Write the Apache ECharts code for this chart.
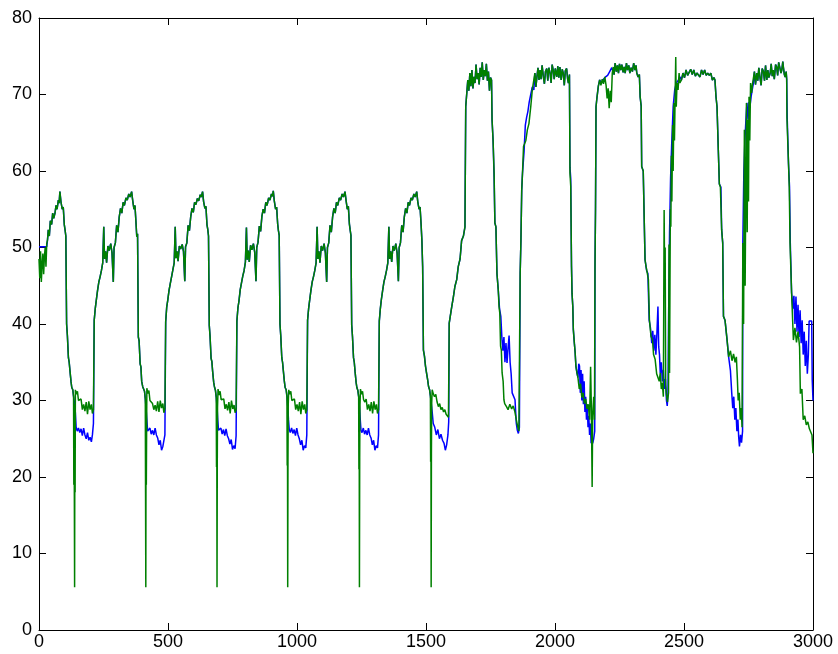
<!DOCTYPE html>
<html>
<head>
<meta charset="utf-8">
<title>Two traces</title>
<script src="https://cdn.jsdelivr.net/npm/echarts@6/dist/echarts.min.js"></script>
<style>
  html, body { margin: 0; padding: 0; background: #ffffff; }
  #chart { width: 838px; height: 654px; }
</style>
</head>
<body>
<div id="chart"></div>
<script>
// Axis ranges and tick spacing
const xRange = [0, 3000];
const xStep = 500;
const yRange = [0, 80];
const yStep = 10;

// Blue trace: [sample, value]
const blueTrace = [
  [0,50.1],[30,50.1],[33,51],[36,52.3],[40,51.5],[44,53.5],[49,53],[53,54.5],[57,53.8],[62,54.5],[66,55.5],[70,55],[75,56.2],[78,55.8],[81,57.3],
  [85,56],[90,55],[94,55.3],[98,53],[101,52.3],[104,51.5],[107,40],[110,38.5],[114,35.6],[117,35],[120,33.9],[124,32.5],[127,31.7],[131,31.4],[134,30.5],
  [138,29.5],[141,28.4],[144,26.5],[148,26],[153,26.4],[158,25.8],[163,26.3],[168,25.4],[173,26.4],[178,25.5],[183,25],[188,25.8],[193,24.8],[198,25.2],[203,24.6],[207,25.5],[211,27],
  [214,40.5],[218,42],[222,43.1],[227,44.4],[232,45.5],[237,46.2],[242,47],[247,48],[251,52.7],[254,48.5],[258,49.5],[262,48],[267,50.2],[272,49.6],[278,50.5],[283,49.3],[288,45.5],[291,50],[296,50.6],[301,52.9],[306,52],[311,54],[316,55.1],[321,54.5],[326,55.9],[331,55.5],[337,56.5],[342,56.2],[348,57],[353,56.6],[359,57.3],
  [363,56.2],[368,55],[372,55.5],[376,53.2],[379,51.4],[382,51.8],[385,38.3],[388,37.8],[392,34.8],[395,34.4],[398,32.5],[402,31.8],[405,31.6],[409,31.2],[412,30.2],
  [415,29],[418,27.5],[421,26],[425,25.8],[430,26.4],[435,25.6],[440,26.1],[445,25.5],[450,26.4],[455,25.5],[460,25.1],[465,24.2],[470,24.8],[475,23.5],[480,24],[484,23.8],[488,25.5],
  [491,40.3],[495,42.2],[499,43.1],[504,44.4],[509,45.3],[514,46.2],[519,47.1],[524,48],[528,52.7],[531,48.6],[535,49.5],[539,48.2],[544,50.2],[549,49.8],[555,50.4],[560,49.5],[565,45.6],[568,50.1],[573,50.6],[578,52.9],[583,52.2],[588,54],[593,55.1],[598,54.6],[603,55.9],[608,55.6],[614,56.4],[619,56.1],[625,56.9],[629,56.6],[634,57.3],
  [638,56],[643,55.1],[647,55.4],[651,53],[654,52.4],[657,51.5],[660,39.8],[663,38.4],[667,35.5],[670,35.1],[673,33.8],[677,32.4],[680,31.8],[684,31.3],[687,30.4],
  [690,29.2],[693,27.4],[696,26.1],[700,25.9],[705,26.4],[710,25.6],[715,26.2],[720,25.4],[725,26.3],[730,25.4],[735,25],[740,24.3],[745,24.9],[750,23.6],[755,24.1],[760,23.7],[764,25.4],
  [767,40.4],[771,42.1],[775,43],[780,44.5],[785,45.4],[790,46.3],[795,47],[800,48.1],[804,52.6],[807,48.4],[811,49.6],[815,48.1],[820,50.3],[825,49.7],[831,50.5],[836,49.4],[841,45.6],[844,50],[849,50.7],[854,52.8],[859,52.1],[864,54.1],[869,55],[874,54.5],[879,55.9],[884,55.5],[890,56.5],[895,56.2],[901,57],[905,56.7],[908,57.4],
  [912,56.1],[917,55],[921,55.3],[925,53.1],[928,52.2],[931,51.6],[934,40],[937,38.5],[941,35.6],[944,35],[947,33.9],[951,32.5],[954,31.7],[958,31.4],[961,30.5],
  [964,29.3],[967,27.5],[970,26.2],[974,25.8],[979,26.4],[984,25.7],[989,26.2],[994,25.4],[999,26.4],[1004,25.5],[1009,25],[1014,24.2],[1019,24.8],[1024,23.5],[1029,24.1],[1034,23.8],[1038,25.5],
  [1041,40.5],[1045,42],[1049,43.1],[1054,44.4],[1059,45.5],[1064,46.2],[1069,47],[1074,48],[1078,52.7],[1081,48.5],[1085,49.5],[1089,48],[1094,50.2],[1099,49.6],[1105,50.5],[1110,49.3],[1115,45.5],[1118,50],[1123,50.6],[1128,52.9],[1133,52],[1138,54],[1143,55.1],[1148,54.5],[1153,55.9],[1158,55.5],[1164,56.5],[1169,56.2],[1175,57],[1180,56.6],[1186,57.3],
  [1190,56.2],[1195,55],[1199,55.4],[1203,53.1],[1206,52.3],[1209,51.6],[1212,39.9],[1215,38.4],[1219,35.6],[1222,35],[1225,33.8],[1229,32.4],[1232,31.7],[1236,31.3],[1239,30.5],
  [1242,29.2],[1245,27.6],[1248,26.1],[1252,25.8],[1257,26.4],[1262,25.6],[1267,26.1],[1272,25.5],[1277,26.4],[1282,25.5],[1287,25.1],[1292,24.2],[1297,24.8],[1302,23.5],[1307,24.1],[1312,23.8],[1316,25.5],
  [1319,40.4],[1323,42],[1327,43.2],[1332,44.4],[1337,45.5],[1342,46.2],[1347,47],[1352,48],[1356,52.7],[1359,48.5],[1363,49.5],[1367,48.1],[1372,50.2],[1377,49.6],[1383,50.5],[1388,49.3],[1393,45.6],[1396,50],[1401,50.6],[1406,52.9],[1411,52],[1416,54],[1421,55.1],[1426,54.5],[1431,55.9],[1436,55.5],[1442,56.5],[1447,56.2],[1453,57],[1458,56.6],[1464,57.3],
  [1468,56],[1473,55],[1477,55.3],[1481,53],[1484,51],[1487,47.5],[1490,36.6],[1494,35.8],[1498,34.5],[1502,33.6],[1506,32.8],[1510,31.8],[1514,31.4],[1517,30.6],
  [1520,29.8],[1524,28.5],[1528,27],[1534,26.5],[1540,25.5],[1546,26.2],[1552,25],[1558,25.6],[1564,24.8],[1570,24.4],[1575,23.5],[1580,24.2],[1585,25.5],[1588,27.2],
  [1590,40.1],[1594,41],[1600,42.3],[1606,43.5],[1612,44.9],[1619,45.8],[1625,47.5],[1632,48.5],[1638,50.9],[1645,51.5],[1651,52.7],[1654,68.4],
  [1658,68.6],[1662,71.9],[1666,70.5],[1670,72.8],[1674,71.1],[1678,73.2],[1682,70.8],[1686,72.3],[1690,71.5],[1694,73.9],[1698,72],[1702,72.8],[1706,71.3],[1710,73.5],[1714,72.3],[1718,74.2],[1722,71.9],[1726,73.2],[1730,72.4],[1734,74],[1738,71.8],[1742,73],[1746,70.5],[1750,72.2],[1754,71.9],
  [1756,66.7],[1760,64],[1764,59.1],[1767,53.2],[1771,52.7],[1775,46.6],[1780,44.5],[1785,42],[1790,41],[1794,38.3],[1798,36.5],[1802,38.3],[1806,35],[1810,37.5],[1814,34.9],[1818,36.8],[1822,38.5],[1826,35],[1830,33.5],[1834,31],[1840,30.8],[1845,30.1],[1850,27],[1854,26.1],[1858,25.7],[1862,26.5],
  [1865,46.6],[1868,51],[1871,57.5],[1874,59.7],[1880,62.5],[1885,66],[1890,67],[1895,67.8],[1900,69],[1906,70],[1912,71],
  [1918,70.6],[1922,72.8],[1926,71],[1930,72.3],[1934,73.5],[1938,71.9],[1942,73.2],[1946,72],[1950,73.8],[1955,72.3],[1959,71.4],[1963,73],[1968,73.4],[1972,71.8],[1976,73.5],[1981,72.8],[1985,71.5],[1989,73.9],[1993,73.2],[1997,72],[2001,73.4],[2007,72.3],[2011,73.7],[2015,72.2],[2019,73.6],[2024,71.9],[2028,73.3],[2032,72.8],[2036,71.2],[2040,73.1],[2045,73.4],[2049,72],[2052,71.5],[2056,72.6],
  [2058,60.5],[2061,59],[2064,47.5],[2066,44],[2069,42.3],[2071,39.3],[2075,37.5],[2078,36.3],[2081,34.5],[2085,33.6],[2089,33],[2092,34.8],[2095,34.5],[2098,31],[2101,34],[2104,30],[2107,33.5],[2110,29.5],[2113,32.5],[2116,28.5],[2119,30.5],[2122,27.5],[2125,29.5],[2128,26.5],[2131,28],[2134,25.5],[2137,27],[2140,24.4],[2143,25.5],[2146,24.4],[2150,25],[2154,26],
  [2155,47.5],[2157,54.9],[2159,68.4],[2163,69.7],[2168,71.1],[2173,71.9],[2180,71.5],[2188,72],[2196,72.3],[2204,72.5],[2212,73],[2220,73.5],
  [2226,73.6],[2229,72.6],[2233,74.1],[2238,73],[2242,73.8],[2246,72.8],[2250,74],[2255,73.2],[2259,73.9],[2264,72.9],[2268,73.6],[2272,72.8],[2277,74.1],[2281,73.2],[2286,73.8],[2290,72.8],[2295,73.5],[2300,73],[2305,74.1],[2310,73.2],[2314,73.8],[2317,72.8],[2322,72.3],[2327,72.6],
  [2330,69.7],[2334,68.5],[2336,60.6],[2342,60],[2349,48.4],[2355,47],[2360,46.6],[2365,40.5],[2370,39.5],[2375,37.5],[2379,39.1],[2383,36.5],[2387,38.6],[2391,36],[2395,38.8],[2399,42.3],[2402,37],[2405,36],[2408,33.6],[2412,35],[2416,32.5],[2420,34],[2424,31.5],[2428,32.8],[2432,30],[2435,29.3],[2438,31],
  [2440,40],[2444,52],[2448,59.1],[2452,63.2],[2458,68.4],[2464,70.6],[2470,71.5],[2477,71.8],[2484,72.3],
  [2490,71.9],[2496,72.8],[2502,72.2],[2508,73.2],[2514,72.5],[2520,72.3],[2526,73.3],[2532,72.6],[2538,73.2],[2544,72.4],[2550,72.8],[2556,73],[2562,72.3],[2568,73.2],[2574,72.6],[2580,73.2],[2586,72.5],[2592,72.8],[2598,72.5],[2604,72.8],[2610,71.9],[2616,72.2],
  [2620,71.9],[2624,69.7],[2628,68.4],[2633,62.7],[2637,58.3],[2643,57.9],[2646,52.3],[2650,50.6],[2653,41],[2659,40.5],[2667,37.9],[2673,35.7],[2680,33.9],[2685,31],[2689,29],[2693,30.5],[2697,27.5],[2701,29],[2705,26],[2709,27.5],[2712,25.2],[2715,24],[2719,25.5],[2723,24.5],[2727,26],
  [2728,50.6],[2732,60],[2736,64],[2740,66.7],[2744,68.9],[2748,66.7],[2752,69],[2756,68.5],[2760,69.7],[2764,70.5],
  [2769,71.5],[2773,73],[2777,71.3],[2782,72.8],[2786,71.8],[2790,73.5],[2795,72.1],[2799,71.2],[2803,73.4],[2808,73],[2812,71.8],[2816,73.8],[2821,71.9],[2825,73.2],[2829,72.2],[2834,72.8],[2838,74],[2842,72.4],[2846,73.2],[2850,72],[2855,73.9],[2859,73.6],[2863,72.5],[2867,74.2],[2872,74.1],[2876,72.8],[2879,73.2],[2883,74.3],[2885,73.6],[2889,72.6],[2892,72.3],[2896,73],
  [2898,72],[2900,67],[2905,61],[2909,57.9],[2912,50.6],[2917,44.1],[2922,42],[2926,43.7],[2930,40],[2934,43.6],[2938,39],[2942,42.5],[2946,38.3],[2950,41.8],[2954,37.5],[2958,40.5],[2962,36],[2966,39],[2970,34.5],[2974,37.8],[2978,33.5],[2982,36],[2985,40.4],[2995,40.4],[2997,32.7],[3000,30]
];

// Green trace: [sample, value]
const greenTrace = [
  [0,48.5],[3,46],[6,49.5],[9,45.5],[12,47.8],[15,49.2],[18,46.5],[21,48.8],[24,50],[27,47.5],[30,50.5],[33,51],[36,52.3],[40,51.5],[44,53.5],[49,53],[53,54.5],[57,53.8],[62,54.5],[66,55.5],[70,55],[75,56.2],[78,55.8],[81,57.3],
  [85,56],[90,55],[94,55.3],[98,53],[101,52.3],[104,51.5],[107,40],[110,38.5],[114,35.6],[117,35],[120,33.9],[124,32.5],[127,31.7],[131,31.4],[134,30.5],[135,19],[136,29.5],[137,17.5],[138,5.6],[139,26],[140,18],[141,31.4],[145,30.8],[149,31.2],[153,30],[158,29.8],[163,30.2],[168,28.8],[173,29.5],[178,28.6],[183,29.8],[188,28.2],[193,29.9],[198,28.8],[203,29.5],[207,28.3],[211,28.8],
  [214,40.5],[218,42],[222,43.1],[227,44.4],[232,45.5],[237,46.2],[242,47],[247,48],[251,52.7],[254,48.5],[258,49.5],[262,48],[267,50.2],[272,49.6],[278,50.5],[283,49.3],[288,45.5],[291,50],[296,50.6],[301,52.9],[306,52],[311,54],[316,55.1],[321,54.5],[326,55.9],[331,55.5],[337,56.5],[342,56.2],[348,57],[353,56.6],[359,57.3],
  [363,56.2],[368,55],[372,55.5],[376,53.2],[379,51.4],[382,51.8],[385,38.3],[388,37.8],[392,34.8],[395,34.4],[398,32.5],[402,31.8],[405,31.6],[409,31.2],[412,30.2],[413,18],[414,5.6],[415,27],[416,19],[418,31.6],[422,30.9],[426,31.3],[430,30],[435,30.1],[440,29.6],[445,28.8],[450,29.4],[455,28.6],[460,29.9],[465,28.5],[470,30],[475,29],[480,29.6],[484,28.4],[488,28.9],
  [491,40.3],[495,42.2],[499,43.1],[504,44.4],[509,45.3],[514,46.2],[519,47.1],[524,48],[528,52.7],[531,48.6],[535,49.5],[539,48.2],[544,50.2],[549,49.8],[555,50.4],[560,49.5],[565,45.6],[568,50.1],[573,50.6],[578,52.9],[583,52.2],[588,54],[593,55.1],[598,54.6],[603,55.9],[608,55.6],[614,56.4],[619,56.1],[625,56.9],[629,56.6],[634,57.3],
  [638,56],[643,55.1],[647,55.4],[651,53],[654,52.4],[657,51.5],[660,39.8],[663,38.4],[667,35.5],[670,35.1],[673,33.8],[677,32.4],[680,31.8],[684,31.3],[687,30.4],[688,21.3],[689,29],[690,5.6],[691,22],[692,29.2],[694,31.5],[698,30.7],[702,31.2],[706,30.1],[711,29.9],[716,30.2],[721,28.9],[726,29.5],[731,28.7],[736,29.8],[741,28.3],[746,30],[751,28.9],[756,29.4],[760,28.4],[764,28.8],
  [767,40.4],[771,42.1],[775,43],[780,44.5],[785,45.4],[790,46.3],[795,47],[800,48.1],[804,52.6],[807,48.4],[811,49.6],[815,48.1],[820,50.3],[825,49.7],[831,50.5],[836,49.4],[841,45.6],[844,50],[849,50.7],[854,52.8],[859,52.1],[864,54.1],[869,55],[874,54.5],[879,55.9],[884,55.5],[890,56.5],[895,56.2],[901,57],[905,56.7],[908,57.4],
  [912,56.1],[917,55],[921,55.3],[925,53.1],[928,52.2],[931,51.6],[934,40],[937,38.5],[941,35.6],[944,35],[947,33.9],[951,32.5],[954,31.7],[958,31.4],[961,30.5],[962,21.5],[963,29],[964,5.6],[965,22],[966,29.4],[968,31.4],[972,30.8],[976,31.2],[980,30],[985,29.8],[990,30.2],[995,28.8],[1000,29.5],[1005,28.6],[1010,29.8],[1015,28.2],[1020,29.9],[1025,28.8],[1030,29.5],[1034,28.3],[1038,28.8],
  [1041,40.5],[1045,42],[1049,43.1],[1054,44.4],[1059,45.5],[1064,46.2],[1069,47],[1074,48],[1078,52.7],[1081,48.5],[1085,49.5],[1089,48],[1094,50.2],[1099,49.6],[1105,50.5],[1110,49.3],[1115,45.5],[1118,50],[1123,50.6],[1128,52.9],[1133,52],[1138,54],[1143,55.1],[1148,54.5],[1153,55.9],[1158,55.5],[1164,56.5],[1169,56.2],[1175,57],[1180,56.6],[1186,57.3],
  [1190,56.2],[1195,55],[1199,55.4],[1203,53.1],[1206,52.3],[1209,51.6],[1212,39.9],[1215,38.4],[1219,35.6],[1222,35],[1225,33.8],[1229,32.4],[1232,31.7],[1236,31.3],[1239,30.5],[1240,21],[1241,29],[1242,5.6],[1243,22.5],[1244,29.3],[1246,31.5],[1250,30.8],[1254,31.2],[1258,30.1],[1263,29.8],[1268,30.2],[1273,28.8],[1278,29.5],[1283,28.6],[1288,29.8],[1293,28.3],[1298,29.9],[1303,28.8],[1308,29.5],[1312,28.3],[1316,28.8],
  [1319,40.4],[1323,42],[1327,43.2],[1332,44.4],[1337,45.5],[1342,46.2],[1347,47],[1352,48],[1356,52.7],[1359,48.5],[1363,49.5],[1367,48.1],[1372,50.2],[1377,49.6],[1383,50.5],[1388,49.3],[1393,45.6],[1396,50],[1401,50.6],[1406,52.9],[1411,52],[1416,54],[1421,55.1],[1426,54.5],[1431,55.9],[1436,55.5],[1442,56.5],[1447,56.2],[1453,57],[1458,56.6],[1464,57.3],
  [1468,56],[1473,55],[1477,55.3],[1481,53],[1484,51],[1487,47.5],[1490,36.6],[1494,35.8],[1498,34.5],[1502,33.6],[1506,32.8],[1510,31.8],[1514,31.4],[1517,30.6],[1518,22],[1519,29.5],[1520,5.6],[1521,23],[1522,29.5],[1524,31.4],[1528,30.9],[1533,30.5],[1538,30.8],[1543,29.8],[1548,29.2],[1553,29.6],[1558,28.8],[1563,29.1],[1568,28.5],[1573,28.8],[1578,28.2],[1583,28.4],[1587,27.8],
  [1590,40.1],[1594,41],[1600,42.3],[1606,43.5],[1612,44.9],[1619,45.8],[1625,47.5],[1632,48.5],[1638,50.9],[1645,51.5],[1651,52.7],[1654,68.4],
  [1658,68.6],[1662,71.9],[1666,70.5],[1670,72.8],[1674,71.1],[1678,73.2],[1682,70.8],[1686,72.3],[1690,71.5],[1694,73.9],[1698,72],[1702,72.8],[1706,71.3],[1710,73.5],[1714,72.3],[1718,74.2],[1722,71.9],[1726,73.2],[1730,72.4],[1734,74],[1738,71.8],[1742,73],[1746,70.5],[1750,72.2],[1754,71.9],
  [1756,66.7],[1760,64],[1764,59.7],[1767,53.2],[1771,52.7],[1775,46.6],[1780,44.5],[1783,42.3],[1786,41.4],[1789,37.1],[1792,36.6],[1795,33.6],[1799,32.5],[1802,30.1],[1805,29.6],[1812,29.2],[1818,28.8],[1825,29.5],[1832,28.9],[1838,29.3],[1844,28.6],[1850,27.5],[1856,26.5],[1860,26],[1863,25.8],
  [1865,46.6],[1868,51],[1871,57.5],[1874,59.7],[1878,63.2],[1887,64],[1893,65.4],[1899,66.2],[1906,68.4],[1912,70.6],
  [1918,70.6],[1922,72.8],[1926,71],[1930,72.3],[1934,73.5],[1938,71.9],[1942,73.2],[1946,72],[1950,73.8],[1955,72.3],[1959,71.4],[1963,73],[1968,73.4],[1972,71.8],[1976,73.5],[1981,72.8],[1985,71.5],[1989,73.9],[1993,73.2],[1997,72],[2001,73.4],[2007,72.3],[2011,73.7],[2015,72.2],[2019,73.6],[2024,71.9],[2028,73.3],[2032,72.8],[2036,71.2],[2040,73.1],[2045,73.4],[2049,72],[2052,71.5],[2056,72.6],
  [2058,59.7],[2061,58],[2064,47.5],[2066,44],[2069,42.3],[2071,39.3],[2075,37.5],[2078,36.3],[2081,34.5],[2085,33.6],[2089,33],[2094,31.5],[2099,32.2],[2104,30.4],[2109,31],[2114,29.6],[2119,30.2],[2124,28.9],[2129,29.5],[2134,27.5],[2138,34.4],[2141,29],[2144,18.7],[2146,28],[2150,30.5],[2153,27.5],
  [2155,47.5],[2157,54.9],[2159,68.4],[2163,69.7],[2168,71.1],[2173,71.9],[2178,71.2],[2183,72],[2188,71.4],[2193,72.3],[2198,71.2],[2202,69.5],[2206,70.8],[2210,68.2],[2214,70.5],[2218,69],[2222,72.8],
  [2226,73.6],[2229,72.6],[2233,74.1],[2238,73],[2242,73.8],[2246,72.8],[2250,74],[2255,73.2],[2259,73.9],[2264,72.9],[2268,73.6],[2272,72.8],[2277,74.1],[2281,73.2],[2286,73.8],[2290,72.8],[2295,73.5],[2300,73],[2305,74.1],[2310,73.2],[2314,73.8],[2317,72.8],[2322,72.3],[2327,72.6],
  [2330,69.7],[2334,68.5],[2336,60.6],[2342,60],[2349,48.4],[2353,47.5],[2358,46.6],[2362,45.8],[2366,40.5],[2372,38.4],[2378,37.9],[2382,36],[2388,35.4],[2394,33.5],[2400,32.9],[2404,32.5],[2408,33.6],[2412,31.5],[2416,32.3],[2420,30.5],[2423,54.9],[2425,45],[2427,50],[2429,32],[2432,30.8],[2436,29.8],[2440,31],
  [2442,50.4],[2444,33.6],[2447,55],[2449,52.7],[2451,62],[2453,56],[2456,66],[2458,60],[2461,68.9],[2463,64],[2466,70.6],[2468,74.9],[2470,68.4],[2473,71.5],[2477,70.6],[2481,72.8],[2484,71.5],
  [2490,71.9],[2496,72.8],[2502,72.2],[2508,73.2],[2514,72.5],[2520,72.3],[2526,73.3],[2532,72.6],[2538,73.2],[2544,72.4],[2550,72.8],[2556,73],[2562,72.3],[2568,73.2],[2574,72.6],[2580,73.2],[2586,72.5],[2592,72.8],[2598,72.5],[2604,72.8],[2610,71.9],[2616,72.2],
  [2620,71.9],[2624,69.7],[2628,68.4],[2633,62.7],[2637,58.3],[2641,57.9],[2646,52.3],[2650,50.6],[2653,41],[2659,40.5],[2667,37.9],[2673,35.7],[2680,36.5],[2686,35.2],[2692,36.1],[2698,35],[2703,35.7],[2707,32.7],[2710,30],[2714,31],[2718,27.5],[2722,29],[2725,26.5],
  [2728,50.6],[2731,40],[2734,65.4],[2737,45],[2740,60],[2742,68.9],[2745,52],[2747,66.7],[2750,56],[2752,69.7],[2755,64],[2758,71.5],[2762,70.2],[2766,71.5],
  [2769,71.5],[2773,73],[2777,71.3],[2782,72.8],[2786,71.8],[2790,73.5],[2795,72.1],[2799,71.2],[2803,73.4],[2808,73],[2812,71.8],[2816,73.8],[2821,71.9],[2825,73.2],[2829,72.2],[2834,72.8],[2838,74],[2842,72.4],[2846,73.2],[2850,72],[2855,73.9],[2859,73.6],[2863,72.5],[2867,74.2],[2872,74.1],[2876,72.8],[2879,73.2],[2883,74.3],[2885,73.6],[2889,72.6],[2892,72.3],[2896,73],
  [2898,72],[2899,67],[2905,61],[2908,57.9],[2911,50.6],[2917,44.1],[2924,37.9],[2930,39.5],[2936,37.6],[2942,39],[2948,37],[2951,30.9],[2957,31.5],[2962,27.5],[2968,28],[2974,26.8],[2980,27.2],[2986,26.3],[2992,26.1],[2996,25.5],[3000,23.1]
];

const FONT = "'Liberation Sans', Arial, Helvetica, sans-serif";
const INK = '#000000';

// One side of the boxed frame: inward ticks on every side, numbers only on bottom/left
function boxAxis(position, range, step, withLabels) {
  const horizontal = position === 'bottom' || position === 'top';
  return {
    type: 'value',
    position: position,
    min: range[0],
    max: range[1],
    interval: step,
    axisLine: { show: true, onZero: false, lineStyle: { color: INK, width: 1 } },
    axisTick: { show: true, inside: true, length: 7, lineStyle: { color: INK, width: 1 } },
    axisLabel: {
      show: withLabels,
      color: INK,
      fontSize: 18,
      fontFamily: FONT,
      margin: horizontal ? 3 : 7,
      showMinLabel: true,
      showMaxLabel: true,
      formatter: function (v) { return String(v); }
    },
    splitLine: { show: false }
  };
}

const chart = echarts.init(document.getElementById('chart'), null, { renderer: 'canvas' });
chart.setOption({
  animation: false,
  backgroundColor: '#ffffff',
  grid: { left: 39, right: 25, top: 18, bottom: 24, containLabel: false },
  xAxis: [
    boxAxis('bottom', xRange, xStep, true),
    boxAxis('top', xRange, xStep, false)
  ],
  yAxis: [
    boxAxis('left', yRange, yStep, true),
    boxAxis('right', yRange, yStep, false)
  ],
  series: [
    {
      name: 'blue',
      type: 'line',
      xAxisIndex: 0,
      yAxisIndex: 0,
      data: blueTrace,
      showSymbol: false,
      symbol: 'none',
      silent: true,
      z: 2,
      lineStyle: { color: '#0000ff', width: 1.5 }
    },
    {
      name: 'green',
      type: 'line',
      xAxisIndex: 0,
      yAxisIndex: 0,
      data: greenTrace,
      showSymbol: false,
      symbol: 'none',
      silent: true,
      z: 3,
      lineStyle: { color: '#008000', width: 1.5 }
    }
  ]
});
</script>
</body>
</html>
